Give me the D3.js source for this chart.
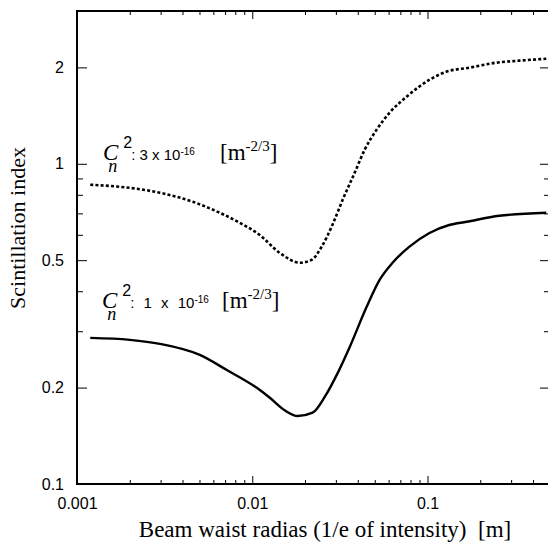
<!DOCTYPE html>
<html>
<head>
<meta charset="utf-8">
<script src="https://cdn.jsdelivr.net/npm/d3@7"></script>
<style>
  body { margin: 0; background: #fff; }
  svg { display: block; }
  .tick text { font-family: "Liberation Sans", Arial, sans-serif; font-size: 16px; fill: #000; }
</style>
</head>
<body>
<svg width="548" height="543"></svg>
<script>
// Beam waist radius [m] and scintillation index
const weakWaist = [0.00119, 0.0020, 0.00297, 0.00502, 0.00716, 0.0110, 0.0126, 0.0153, 0.0182, 0.0221,
    0.0259, 0.0307, 0.0360, 0.0449, 0.0533, 0.0632, 0.0789, 0.1026, 0.133, 0.167, 0.257, 0.476];
const weakIndex = [0.286, 0.282, 0.274, 0.253, 0.227, 0.197, 0.186, 0.170, 0.163, 0.167,
    0.187, 0.222, 0.268, 0.357, 0.434, 0.491, 0.551, 0.608, 0.644, 0.659, 0.688, 0.703];

const strongWaist = [0.00119, 0.0020, 0.00297, 0.00458, 0.00653, 0.00849, 0.0110, 0.01435, 0.01866, 0.0218,
    0.0249, 0.0287, 0.0328, 0.0384, 0.0438, 0.0512, 0.0607, 0.0759, 0.1026, 0.128, 0.173, 0.247, 0.334, 0.476];
const strongIndex = [0.860, 0.841, 0.812, 0.761, 0.703, 0.654, 0.600, 0.527, 0.491, 0.501,
    0.551, 0.645, 0.772, 0.937, 1.106, 1.277, 1.443, 1.619, 1.830, 1.939, 1.995, 2.069, 2.099, 2.128];

const xTickValues = [0.001, 0.01, 0.1];
const xTickLabels = ["0.001", "0.01", "0.1"];
const yTickValues = [0.1, 0.2, 0.5, 1, 2];
const yTickLabels = ["0.1", "0.2", "0.5", "1", "2"];

const svg = d3.select("svg");
const plot = { left: 77, right: 550, top: 11, bottom: 484 };

const x = d3.scaleLog().domain([0.001, 0.5]).range([plot.left, plot.right]);
const y = d3.scaleLog().domain([0.1, 3]).range([plot.bottom, plot.top]);

// ticks: minor every integer multiple, major on the labelled ones
function addTicks(axisFn, scale, transform, minorLen, majorLen, majors, labels, pad) {
    const minor = scale.ticks().filter(v => !majors.some(m => Math.abs(m - v) / m < 1e-6));
    svg.append("g").attr("transform", transform)
        .call(axisFn(scale).tickValues(minor).tickSize(-minorLen).tickFormat(""))
        .call(g => g.select(".domain").remove());
    svg.append("g").attr("transform", transform)
        .call(axisFn(scale).tickValues(majors).tickSize(-majorLen).tickPadding(pad)
            .tickFormat((d, i) => labels ? labels[i] : ""))
        .call(g => g.select(".domain").remove());
}
addTicks(d3.axisBottom, x, `translate(0,${plot.bottom})`, 4, 8, xTickValues, xTickLabels, 14);
addTicks(d3.axisTop, x, `translate(0,${plot.top})`, 4, 8, xTickValues, null, 0);
addTicks(d3.axisLeft, y, `translate(${plot.left},0)`, 6, 10, yTickValues, yTickLabels, 13);
addTicks(d3.axisRight, y, `translate(${plot.right},0)`, 6, 10, yTickValues, null, 0);
svg.selectAll(".tick line").attr("stroke", "#000").attr("stroke-width", 1);

// frame
svg.append("rect")
    .attr("x", plot.left).attr("y", plot.top)
    .attr("width", plot.right - plot.left).attr("height", plot.bottom - plot.top)
    .attr("fill", "none").attr("stroke", "#000").attr("stroke-width", 2);

const line = (xs, ys) => d3.line()
    .x((d, i) => x(xs[i]))
    .y(d => y(d))
    .curve(d3.curveMonotoneX)(ys);

svg.append("path")
    .attr("d", line(strongWaist, strongIndex))
    .attr("fill", "none").attr("stroke", "#000")
    .attr("stroke-width", 2.6).attr("stroke-dasharray", "3,2.2");

svg.append("path")
    .attr("d", line(weakWaist, weakIndex))
    .attr("fill", "none").attr("stroke", "#000")
    .attr("stroke-width", 2.4);

// Cn^2 labels, one text element each
const serif = "'Liberation Serif', 'Times New Roman', serif";
const sans = "'Liberation Sans', Arial, sans-serif";
function cnLabel(x0, base, coef, wordSpace, bracketX) {
    const t = svg.append("text").attr("x", x0).attr("y", base);
    t.append("tspan").attr("font-family", serif).attr("font-style", "italic").attr("font-size", 23).text("C");
    t.append("tspan").attr("font-family", serif).attr("font-style", "italic").attr("font-size", 18)
        .attr("dx", -10).attr("dy", 12).text("n");
    t.append("tspan").attr("font-family", sans).attr("font-size", 16)
        .attr("dx", 6).attr("dy", -24).text("2");
    t.append("tspan").attr("font-family", sans).attr("font-size", 15)
        .attr("dx", -1).attr("dy", 12).attr("word-spacing", wordSpace).text(`: ${coef} x 10`);
    t.append("tspan").attr("font-family", sans).attr("font-size", 10).attr("dy", -5).text("-16");
    t.append("tspan").attr("font-family", serif).attr("font-size", 23)
        .attr("x", bracketX).attr("dy", 5).text("[m");
    t.append("tspan").attr("font-family", serif).attr("font-size", 15).attr("dy", -9).text("-2/3");
    t.append("tspan").attr("font-family", serif).attr("font-size", 23).attr("dy", 9).text("]");
}
cnLabel(103, 160, "3", 0, 220);
cnLabel(102, 308, "1", 5, 222);

// axis titles
svg.append("text")
    .attr("x", 325).attr("y", 537)
    .attr("text-anchor", "middle")
    .attr("font-family", serif).attr("font-size", 23)
    .attr("xml:space", "preserve")
    .text("Beam waist radias (1/e of intensity)  [m]");

svg.append("text")
    .attr("transform", "rotate(-90)")
    .attr("x", -228).attr("y", 25)
    .attr("text-anchor", "middle")
    .attr("font-family", serif).attr("font-size", 22)
    .text("Scintillation index");
</script>
</body>
</html>
